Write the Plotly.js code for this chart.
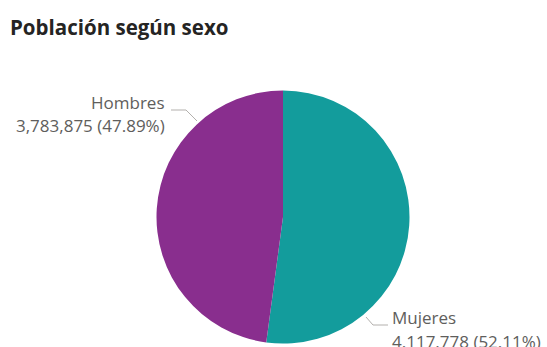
<!DOCTYPE html>
<html>
<head>
<meta charset="utf-8">
<script src="https://cdn.plot.ly/plotly-3.0.1.min.js"></script>
<style>html,body{margin:0;padding:0;background:#fff;}#chart{width:547px;height:347px;}</style>
</head>
<body>
<div id="chart"></div>
<script>
const categories = ["Mujeres", "Hombres"];
const values = [4117778, 3783875];
const valueLabels = ["4.117.778", "3,783,875"];
const percentLabels = ["52.11%", "47.89%"];
const colors = ["#139C9C", "#892E8E"];

const W = 547, H = 347;
const px = x => x / W;
const py = y => 1 - y / H;

const cx = 283, cy = 217, r = 126.5;

const trace = {
  type: "pie",
  labels: categories,
  values: values,
  marker: { colors: colors, line: { color: "#ffffff", width: 0 } },
  textinfo: "none",
  sort: false,
  direction: "clockwise",
  rotation: 0,
  hoverinfo: "none",
  domain: { x: [px(cx - r), px(cx + r)], y: [py(cy + r), py(cy - r)] }
};

const labelFont = { family: "Open Sans, sans-serif", size: 17, color: "#605E5C" };

function lbl(text, x, y, anchor) {
  return { xref: "paper", yref: "paper", x: px(x), y: py(y), xanchor: anchor, yanchor: "middle",
    showarrow: false, font: labelFont, text: text };
}

const annotations = [
  lbl(categories[1], 167, 102, "right"),
  lbl(valueLabels[1] + " (" + percentLabels[1] + ")", 167, 126, "right"),
  lbl(categories[0], 390, 317, "left"),
  lbl(valueLabels[0] + " (" + percentLabels[0] + ")", 390, 341, "left")
];

const lineStyle = { color: "#B3B0AD", width: 1 };
const shapes = [
  { type: "path", xref: "paper", yref: "paper", line: lineStyle,
    path: "M " + px(171) + " " + py(110) + " L " + px(186) + " " + py(110) + " L " + px(197) + " " + py(121) },
  { type: "path", xref: "paper", yref: "paper", line: lineStyle,
    path: "M " + px(366) + " " + py(317) + " L " + px(373) + " " + py(325) + " L " + px(388) + " " + py(325) }
];

const layout = {
  width: W, height: H,
  margin: { l: 0, r: 0, t: 0, b: 0 },
  paper_bgcolor: "#ffffff",
  showlegend: false,
  title: {
    text: "<b>Población según sexo</b>",
    x: px(10), xanchor: "left", xref: "paper",
    y: py(28), yanchor: "middle", yref: "paper",
    font: { family: "Open Sans, sans-serif", size: 20.5, color: "#252423" }
  },
  annotations: annotations,
  shapes: shapes
};

Plotly.newPlot("chart", [trace], layout, { displayModeBar: false, staticPlot: true });
</script>
</body>
</html>
